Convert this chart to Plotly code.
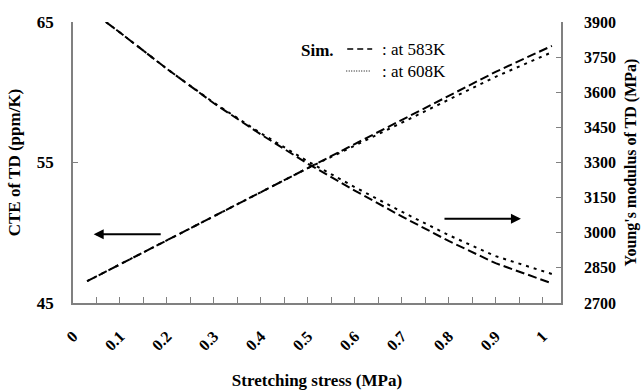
import plotly.graph_objects as go

# Stretching stress sample points (MPa)
cte_stress = [0.03, 0.1, 0.2, 0.3, 0.4, 0.5, 0.6, 0.7, 0.8, 0.9, 1.02]
mod_stress = [0.07, 0.1, 0.2, 0.3, 0.4, 0.5, 0.6, 0.7, 0.8, 0.9, 1.02]

# CTE of TD (ppm/K)
cte_583 = [46.55, 47.75, 49.45, 51.15, 52.85, 54.6, 56.3, 58.0, 59.75, 61.45, 63.3]
cte_608 = [46.55, 47.75, 49.45, 51.15, 52.85, 54.6, 56.2, 57.85, 59.5, 61.1, 62.85]

# Young's modulus of TD (MPa)
mod_583 = [3900, 3855, 3700, 3553, 3420, 3295, 3180, 3070, 2965, 2870, 2784]
mod_608 = [3900, 3855, 3700, 3555, 3425, 3305, 3195, 3090, 2990, 2900, 2824]

x_tick_vals = [0, 0.1, 0.2, 0.3, 0.4, 0.5, 0.6, 0.7, 0.8, 0.9, 1.0]
x_tick_text = ["0", "0.1", "0.2", "0.3", "0.4", "0.5", "0.6", "0.7", "0.8", "0.9", "1"]
left_ticks = [45, 55, 65]
right_ticks = [2700, 2850, 3000, 3150, 3300, 3450, 3600, 3750, 3900]

FONT = "Liberation Serif"
AXIS_GREY = "#808080"
W, H = 644, 390
L, R, T, B = 72.5, 83, 22, 87
PW, PH = W - L - R, H - T - B


def px(xp):
    return (xp - L) / PW


def py(yp):
    return (H - B - yp) / PH


def bold(size):
    return dict(family=FONT, size=size, color="black", weight="bold")


fig = go.Figure()

fig.add_trace(go.Scatter(x=cte_stress, y=cte_583, mode="lines", yaxis="y",
                         line=dict(color="black", width=2, dash="9px,4px"),
                         showlegend=False))
fig.add_trace(go.Scatter(x=cte_stress, y=cte_608, mode="lines", yaxis="y",
                         line=dict(color="black", width=2, dash="3px,5px"),
                         showlegend=False))
fig.add_trace(go.Scatter(x=mod_stress, y=mod_583, mode="lines", yaxis="y2",
                         line=dict(color="black", width=2, dash="9px,4px"),
                         showlegend=False))
fig.add_trace(go.Scatter(x=mod_stress, y=mod_608, mode="lines", yaxis="y2",
                         line=dict(color="black", width=2, dash="3px,5px"),
                         showlegend=False))

fig.update_layout(
    width=W, height=H,
    margin=dict(l=L, r=R, t=T, b=B, pad=0),
    paper_bgcolor="white", plot_bgcolor="white",
    xaxis=dict(
        range=[0, (W - R - L) / 470.0], showgrid=False, zeroline=False,
        automargin=False,
        showline=True, linecolor=AXIS_GREY, linewidth=1.5,
        tickvals=x_tick_vals, ticktext=x_tick_text, tickangle=-45,
        ticks="inside", ticklen=6, tickcolor=AXIS_GREY, tickwidth=1,
        minor=dict(dtick=0.05, tick0=0, ticks="inside", ticklen=6,
                   tickcolor=AXIS_GREY, tickwidth=1),
        tickfont=bold(16), ticklabelstandoff=16,
        title=dict(text="Stretching stress (MPa)", standoff=22, font=bold(17)),
    ),
    yaxis=dict(
        range=[45, 65], showgrid=False, zeroline=False, automargin=False,
        showline=True, linecolor=AXIS_GREY, linewidth=1.5,
        tickvals=left_ticks, ticks="inside", ticklen=5,
        tickcolor=AXIS_GREY, tickwidth=1,
        tickfont=bold(17), ticklabelstandoff=14,
        title=dict(text="CTE of TD (ppm/K)", standoff=12, font=bold(17)),
    ),
    yaxis2=dict(
        range=[2700, 3900], overlaying="y", side="right", anchor="x",
        showgrid=False, zeroline=False, automargin=False,
        showline=True, linecolor=AXIS_GREY, linewidth=1.5,
        tickvals=right_ticks, ticks="inside", ticklen=5,
        tickcolor=AXIS_GREY, tickwidth=1,
        tickfont=bold(16), ticklabelstandoff=18,
        title=dict(text="Young's modulus of TD (MPa)", standoff=10, font=bold(16)),
    ),
)

# Direction arrows pointing at the relevant axis
fig.add_annotation(x=0.044, y=49.9, ax=0.19, ay=49.9, xref="x", yref="y",
                   axref="x", ayref="y", showarrow=True, text="",
                   arrowhead=2, arrowsize=1, arrowwidth=2, arrowcolor="black")
fig.add_annotation(x=0.954, y=51.0, ax=0.788, ay=51.0, xref="x", yref="y",
                   axref="x", ayref="y", showarrow=True, text="",
                   arrowhead=2, arrowsize=1, arrowwidth=2, arrowcolor="black")

# Legend block
fig.add_annotation(x=px(317), y=py(50), xref="paper", yref="paper",
                   text="Sim.", showarrow=False, xanchor="center", yanchor="middle",
                   font=bold(17))
fig.add_annotation(x=px(380), y=py(49), xref="paper", yref="paper",
                   text=": at 583K", showarrow=False, xanchor="left", yanchor="middle",
                   font=dict(family=FONT, size=17, color="black"))
fig.add_annotation(x=px(380), y=py(71), xref="paper", yref="paper",
                   text=": at 608K", showarrow=False, xanchor="left", yanchor="middle",
                   font=dict(family=FONT, size=17, color="black"))
fig.add_shape(type="line", xref="paper", yref="paper",
              x0=px(347), x1=px(372), y0=py(49), y1=py(49),
              line=dict(color="black", width=1.5, dash="6px,4px"))
fig.add_shape(type="line", xref="paper", yref="paper",
              x0=px(346), x1=px(370), y0=py(71), y1=py(71),
              line=dict(color="black", width=1, dash="1px,1.5px"))

fig.write_html("out.html")
